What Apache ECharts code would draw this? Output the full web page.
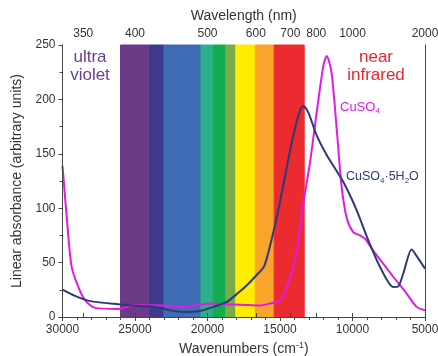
<!DOCTYPE html>
<html>
<head>
<meta charset="utf-8">
<script src="https://cdn.jsdelivr.net/npm/echarts@6/dist/echarts.min.js"></script>
<style>
  html, body { margin: 0; padding: 0; background: #fff; }
  #chart { width: 438px; height: 356px; }
</style>
</head>
<body>
<div id="chart"></div>
<script>
// CuSO4 (anhydrous) absorbance
const cuso4Wn = [30000, 29710, 29370, 28910, 28450, 27760, 26150, 25000, 23500, 21700, 19830, 18240, 16380, 15690, 15000, 14310, 13850, 13410, 12930, 12470, 12010, 11780, 11450, 11090, 10760, 10400, 9950, 9480, 9140, 8570, 7880, 7190, 6270, 5580, 5000]
const cuso4Abs = [139, 92, 46, 27.6, 15.4, 8.4, 7.4, 10.8, 10.8, 9.3, 12.4, 11.5, 10.6, 12.4, 15, 35.6, 60, 103, 142, 188, 231, 240, 225, 173, 121, 91, 78, 75, 72, 61, 49, 37, 21.6, 9.3, 6.2]

// CuSO4·5H2O absorbance
const hydWn = [30000, 29140, 28450, 27760, 26150, 24540, 23960, 22590, 21670, 20520, 19600, 18670, 17900, 17300, 16720, 16080, 15460, 15000, 14540, 14080, 13620, 13390, 13050, 12470, 11780, 10630, 9710, 8910, 8100, 7190, 6850, 6500, 5920, 5460, 5000]
const hydAbs = [25.2, 19.4, 16, 13.9, 11.8, 9.9, 9.9, 6.2, 4.7, 5.6, 9.3, 13.9, 22, 29, 37, 47, 78, 106, 137, 167, 190, 194, 188, 167, 149, 124, 98, 70.5, 46, 27.6, 28, 40, 62, 53.7, 44.5]

// visible spectrum bands (wavenumber ranges)
const bandStart = [26000, 24000, 23000, 20450, 19600, 18750, 18050, 16700, 15400]
const bandEnd = [24000, 23000, 20450, 19600, 18750, 18050, 16700, 15400, 13330]
const bandColors = ['#6a3b87', '#3e3b8e', '#3e6db5', '#2db08a', '#12ad50', '#7aab4b', '#ffec00', '#f9a52b', '#ec2b30']

// top axis tick labels (nm)
const wavelengths = [350, 400, 500, 600, 700, 800, 1000, 2000]
const topTicks = wavelengths.map(l => 1e7 / l)

const FONT = 'Liberation Sans, Arial, sans-serif'
const AX = '#444'

const chart = echarts.init(document.getElementById('chart'))

const option = {
  animation: false,
  grid: { left: 62.5, right: 13, top: 45, bottom: 39, outerBoundsMode: 'none', containLabel: false },
  xAxis: [
    {
      type: 'value',
      min: 5000,
      max: 30000,
      interval: 5000,
      inverse: true,
      position: 'bottom',
      z: 10,
      name: '{a|Wavenumbers (cm}{s|-1}{a|)}',
      nameLocation: 'middle',
      nameGap: 23,
      nameTextStyle: {
        rich: {
          a: { fontSize: 14, color: '#333', fontFamily: FONT },
          s: { fontSize: 9, color: '#333', fontFamily: FONT, padding: [0, 0, 8, 0] },
        },
      },
      axisLine: { lineStyle: { color: AX, width: 1 } },
      axisTick: { length: 4, lineStyle: { color: AX } },
      minorTick: { show: true, splitNumber: 5, length: 3, lineStyle: { color: AX } },
      splitLine: { show: false },
      axisLabel: { color: '#333', fontSize: 12, fontFamily: FONT, margin: 7, formatter: v => String(v) },
    },
    {
      type: 'value',
      min: 5000,
      max: 30000,
      inverse: true,
      position: 'top',
      z: 10,
      name: 'Wavelength (nm)',
      nameLocation: 'middle',
      nameGap: 22,
      nameTextStyle: { fontSize: 14, color: '#333', fontFamily: FONT },
      axisLine: { lineStyle: { color: AX, width: 1 } },
      axisTick: { length: 4, customValues: topTicks, lineStyle: { color: AX } },
      splitLine: { show: false },
      axisLabel: {
        customValues: topTicks,
        color: '#333',
        fontSize: 12,
        fontFamily: FONT,
        margin: 5,
        formatter: v => String(Math.round(1e7 / v)),
      },
    },
  ],
  yAxis: [
    {
      type: 'value',
      min: 0,
      max: 250,
      interval: 50,
      z: 10,
      name: 'Linear absorbance (arbitrary units)',
      nameLocation: 'middle',
      nameGap: 28,
      nameTextStyle: { fontSize: 14, color: '#333', fontFamily: FONT },
      axisLine: { show: true, lineStyle: { color: AX, width: 1 } },
      axisTick: { show: true, length: 4, lineStyle: { color: AX } },
      minorTick: { show: true, splitNumber: 2, length: 3, lineStyle: { color: AX } },
      splitLine: { show: false },
      axisLabel: { color: '#333', fontSize: 12, fontFamily: FONT, margin: 7 },
    },
    {
      type: 'value',
      min: 0,
      max: 250,
      position: 'right',
      z: 10,
      axisLine: { show: true, lineStyle: { color: AX, width: 1 } },
      axisTick: { show: false },
      axisLabel: { show: false },
      splitLine: { show: false },
    },
  ],
  series: [
    {
      type: 'line',
      data: [],
      silent: true,
      z: 1,
      markArea: {
        silent: true,
        data: bandStart.map((s, i) => [
          {
            xAxis: s,
            itemStyle: { color: bandColors[i], opacity: 1, borderColor: bandColors[i], borderWidth: 1 },
          },
          { xAxis: bandEnd[i] },
        ]),
      },
    },
    {
      name: 'CuSO4',
      type: 'line',
      z: 3,
      showSymbol: false,
      smooth: 0.25,
      lineStyle: { color: '#e01be6', width: 2 },
      itemStyle: { color: '#e01be6' },
      data: cuso4Wn.map((w, i) => [w, cuso4Abs[i]]),
    },
    {
      name: 'CuSO4·5H2O',
      type: 'line',
      z: 4,
      showSymbol: false,
      smooth: 0.25,
      lineStyle: { color: '#2b3b78', width: 2 },
      itemStyle: { color: '#2b3b78' },
      data: hydWn.map((w, i) => [w, hydAbs[i]]),
    },
  ],
  graphic: [
    {
      type: 'text',
      z: 20,
      x: 90, y: 66,
      style: {
        text: 'ultra\nviolet', fill: '#6b3f8f', fontSize: 17, fontFamily: FONT,
        align: 'center', verticalAlign: 'middle', lineHeight: 18,
      },
    },
    {
      type: 'text',
      z: 20,
      x: 376, y: 66,
      style: {
        text: 'near\ninfrared', fill: '#e5262d', fontSize: 17, fontFamily: FONT,
        align: 'center', verticalAlign: 'middle', lineHeight: 18,
      },
    },
    {
      type: 'text',
      z: 20,
      x: 340, y: 107,
      style: {
        text: '{a|CuSO}{s|4}',
        verticalAlign: 'middle',
        rich: {
          a: { fontSize: 13, fill: '#e01be6', fontFamily: FONT },
          s: { fontSize: 8, fill: '#e01be6', fontFamily: FONT, padding: [8, 0, 0, 0] },
        },
      },
    },
    {
      type: 'text',
      z: 20,
      x: 346, y: 177,
      style: {
        text: '{a|CuSO}{s|4}{a|·5H}{s|2}{a|O}',
        verticalAlign: 'middle',
        rich: {
          a: { fontSize: 12.5, fill: '#2b3b78', fontFamily: FONT },
          s: { fontSize: 8, fill: '#2b3b78', fontFamily: FONT, padding: [8, 0, 0, 0] },
        },
      },
    },
  ],
}

chart.setOption(option)
</script>
</body>
</html>
